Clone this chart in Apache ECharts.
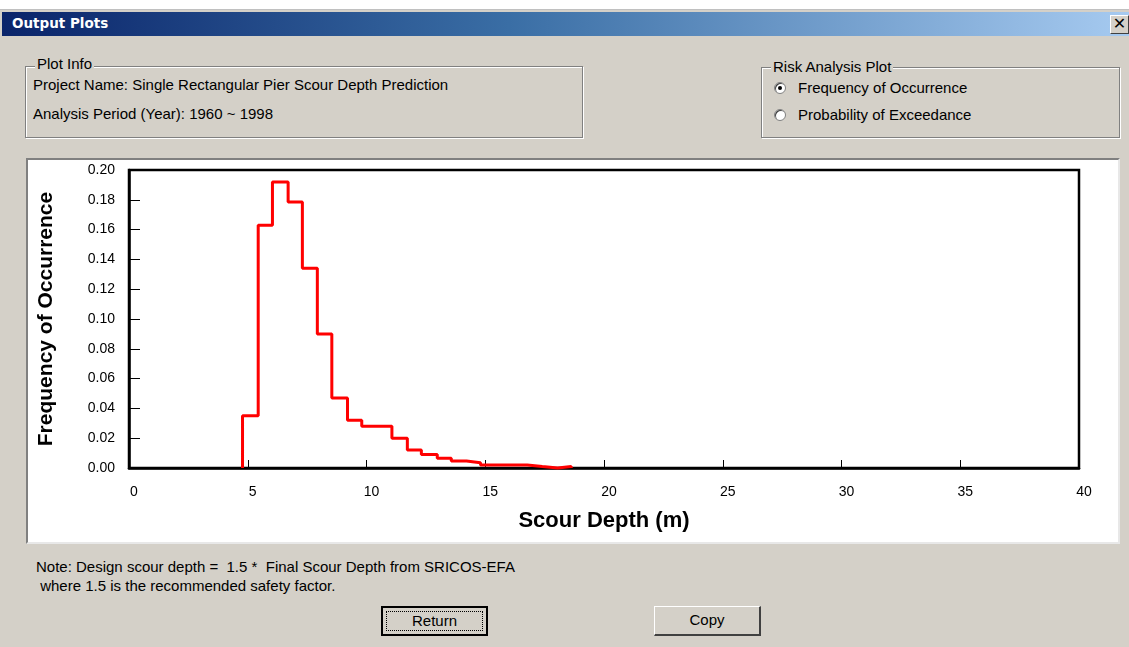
<!DOCTYPE html>
<html>
<head>
<meta charset="utf-8">
<script src="https://cdn.jsdelivr.net/npm/echarts@6/dist/echarts.min.js"></script>
<style>
  html, body { margin:0; padding:0; width:1129px; height:647px; overflow:hidden; background:#ffffff; font-family:"Liberation Sans", Arial, sans-serif; }
  #win { position:absolute; left:0; top:9px; width:1129px; height:638px; background:#D4D0C8; border-top:1px solid #c0c0c0; }
  #title { position:absolute; left:2px; top:2px; width:1127px; height:24px; background:linear-gradient(to right, #0A246A 0%, #3a6ea5 45%, #A6CAF0 100%); }
  #title span { position:absolute; left:10px; top:3px; color:#fff; font-family:"DejaVu Sans", sans-serif; font-weight:bold; font-size:13.5px; }
  #close { position:absolute; right:0px; top:3px; width:19px; height:19px; background:#D4D0C8; border-top:1px solid #fff; border-left:1px solid #fff; border-right:1px solid #404040; border-bottom:1px solid #404040; box-sizing:border-box; font-family:"DejaVu Sans", sans-serif; font-weight:bold; font-size:16px; line-height:16px; text-align:center; color:#000; }
  .grp { position:absolute; border:1px solid #808080; box-shadow: inset 1px 1px 0 #fff, 1px 1px 0 #fff; box-sizing:border-box; }
  .glab { position:absolute; background:#D4D0C8; padding:0 2px; font-size:15px; color:#000; }
  .txt { position:absolute; font-size:15px; color:#000; white-space:pre; }
  .radio { position:absolute; width:12px; height:12px; border-radius:50%; background:#fff; border:1px solid #808080; box-shadow: inset 1px 1px 0 #404040; box-sizing:border-box; }
  .dot { position:absolute; left:3px; top:3px; width:4px; height:4px; border-radius:50%; background:#000; }
  #panel { position:absolute; left:26px; top:148px; width:1094px; height:386px; background:#fff; border-top:2px solid #808080; border-left:2px solid #808080; border-right:2px solid #e8e8e8; border-bottom:2px solid #e8e8e8; box-sizing:border-box; }
  #chart { position:absolute; left:0; top:0; width:1090px; height:382px; }
  .btn { position:absolute; width:107px; height:30px; background:#D4D0C8; border-top:1px solid #fff; border-left:1px solid #fff; border-right:2px solid #404040; border-bottom:2px solid #404040; box-sizing:border-box; font-size:15px; text-align:center; line-height:26px; color:#000; }
  .btn.def { border:2px solid #000; }
  .btn.def .focus { position:absolute; left:3px; top:3px; right:3px; bottom:3px; border:1px dotted #000; line-height:18px; }
</style>
</head>
<body>
<div id="win">
  <div id="title"><span>Output Plots</span><div id="close">✕</div></div>

  <div class="grp" style="left:25px; top:56px; width:558px; height:72px;"></div>
  <div class="glab" style="left:35px; top:45px;">Plot Info</div>
  <div class="txt" style="left:33px; top:66px;">Project Name: Single Rectangular Pier Scour Depth Prediction</div>
  <div class="txt" style="left:33px; top:95px;">Analysis Period (Year): 1960 ~ 1998</div>

  <div class="grp" style="left:761px; top:57px; width:359px; height:71px;"></div>
  <div class="glab" style="left:771px; top:48px;">Risk Analysis Plot</div>
  <div class="radio" style="left:774px; top:72px;"><div class="dot"></div></div>
  <div class="txt" style="left:798px; top:69px;">Frequency of Occurrence</div>
  <div class="radio" style="left:774px; top:99px;"></div>
  <div class="txt" style="left:798px; top:96px;">Probability of Exceedance</div>

  <div id="panel"><div id="chart"></div></div>

  <div class="txt" style="left:36px; top:548px;">Note: Design scour depth =  1.5 *  Final Scour Depth from SRICOS-EFA</div>
  <div class="txt" style="left:36px; top:567px;"> where 1.5 is the recommended safety factor.</div>

  <div class="btn def" style="left:381px; top:596px;"><div class="focus">Return</div></div>
  <div class="btn" style="left:654px; top:596px;">Copy</div>
</div>

<script>
// Bin edges (m) and frequency of occurrence for each bin
const binEdges = [4.78, 5.44, 6.04, 6.70, 7.30, 7.93, 8.54, 9.20, 9.80, 10.43, 11.07, 11.72,
                  12.31, 12.98, 13.57, 14.21, 14.80, 15.45, 16.10, 16.77, 17.40, 18.05, 18.62];
const frequency = [0.035, 0.163, 0.192, 0.1785, 0.134, 0.090, 0.047, 0.032, 0.028, 0.028, 0.020,
                   0.012, 0.009, 0.0065, 0.0047, 0.0035, 0.002, 0.002, 0.002, 0.001, 0.000, 0.001];
const xTickValues = [0, 5, 10, 15, 20, 25, 30, 35, 40];
const yTickValues = [0.00, 0.02, 0.04, 0.06, 0.08, 0.10, 0.12, 0.14, 0.16, 0.18, 0.20];

const stepData = [[binEdges[0], 0]];
for (let i = 0; i < frequency.length; i++) stepData.push([binEdges[i], frequency[i]]);
stepData.push([binEdges[binEdges.length - 1], 0]);

const chart = echarts.init(document.getElementById('chart'), null, { renderer: 'canvas' });
chart.setOption({
  animation: false,
  backgroundColor: '#ffffff',
  grid: { left: 99, top: 10, right: 39, bottom: 74, show: true, borderColor: '#000', borderWidth: 2.5, backgroundColor: 'transparent', containLabel: false },
  xAxis: {
    type: 'value', min: xTickValues[0], max: xTickValues[xTickValues.length - 1], interval: 5,
    name: 'Scour Depth (m)', nameLocation: 'middle', nameGap: 42,
    nameTextStyle: { fontFamily: 'Liberation Sans', fontWeight: 'bold', fontSize: 22, color: '#000' },
    axisLine: { show: true, onZero: false, lineStyle: { color: '#000', width: 2.5 } },
    axisTick: { show: true, inside: true, length: 8, lineStyle: { color: '#000', width: 1 } },
    axisLabel: { margin: 17, color: '#000', fontFamily: 'Liberation Sans', fontSize: 14, padding: [0, 0, 0, 10] },
    splitLine: { show: false }
  },
  yAxis: {
    type: 'value', min: yTickValues[0], max: yTickValues[yTickValues.length - 1], interval: 0.02,
    name: 'Frequency of Occurrence', nameLocation: 'middle', nameGap: 72, nameRotate: 90,
    nameTextStyle: { fontFamily: 'Liberation Sans', fontWeight: 'bold', fontSize: 21, color: '#000' },
    axisLine: { show: true, lineStyle: { color: '#000', width: 2.5 } },
    axisTick: { show: true, inside: true, length: 11, lineStyle: { color: '#000', width: 1 } },
    axisLabel: { margin: 14, color: '#000', fontFamily: 'Liberation Sans', fontSize: 14, formatter: v => v.toFixed(2) },
    splitLine: { show: false }
  },
  series: [{
    type: 'line', step: 'end', data: stepData, showSymbol: false, symbol: 'none',
    lineStyle: { color: '#ff0000', width: 3 }, z: 5, clip: false
  }]
});
</script>
</body>
</html>
